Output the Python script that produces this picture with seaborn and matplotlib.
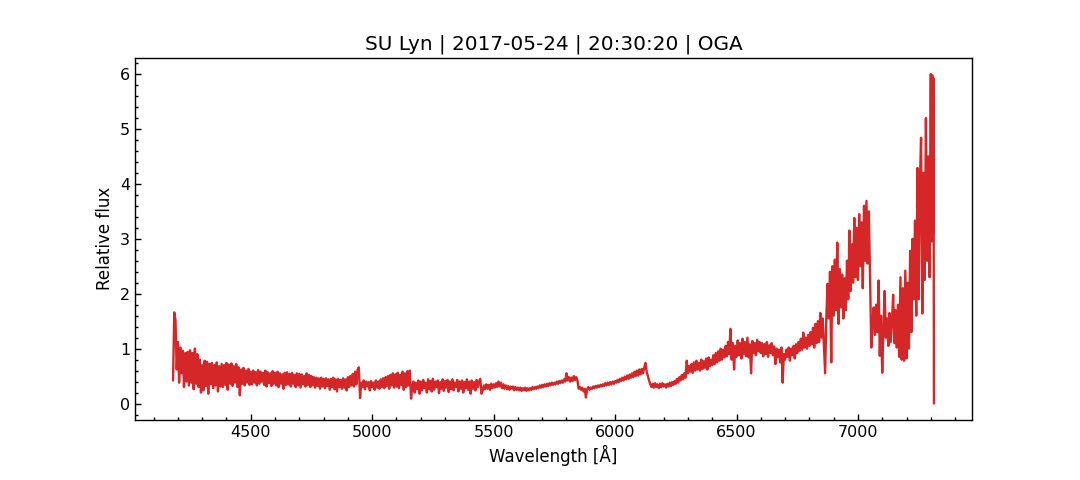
import numpy as np
import pandas as pd
import matplotlib
matplotlib.use("Agg")
import matplotlib.pyplot as plt
from matplotlib.ticker import MultipleLocator
import seaborn as sns

title = "SU Lyn | 2017-05-24 | 20:30:20 | OGA"
x_label = "Wavelength [Å]"
y_label = "Relative flux"

# --- blue end (4180-4495 Å) ---
wave_a = [
    4180, 4185, 4190, 4195, 4200, 4205, 4210, 4215, 4220, 4225,
    4230, 4235, 4240, 4245, 4250, 4255, 4260, 4265, 4270, 4275,
    4280, 4285, 4290, 4295, 4300, 4305, 4310, 4315, 4320, 4325,
    4330, 4335, 4340, 4345, 4350, 4355, 4360, 4365, 4370, 4375,
    4380, 4385, 4390, 4395, 4400, 4405, 4410, 4415, 4420, 4425,
    4430, 4435, 4440, 4445, 4450, 4455, 4460, 4465, 4470, 4475,
    4480, 4485, 4490, 4495,
]
flux_a = [
    0.42, 1.66, 1.52, 0.62, 1.12, 0.38, 1.02, 0.55, 0.96, 0.30,
    0.92, 0.40, 0.94, 0.33, 0.97, 0.38, 0.92, 0.26, 1.00, 0.36,
    0.90, 0.30, 0.80, 0.20, 0.70, 0.24, 0.78, 0.32, 0.76, 0.18,
    0.72, 0.35, 0.74, 0.28, 0.70, 0.33, 0.75, 0.22, 0.68, 0.31,
    0.72, 0.30, 0.70, 0.34, 0.74, 0.25, 0.71, 0.36, 0.73, 0.32,
    0.68, 0.38, 0.72, 0.30, 0.66, 0.15, 0.62, 0.36, 0.65, 0.33,
    0.60, 0.38, 0.63, 0.34,
]

# --- 4500-5450 Å ---
wave_b = [
    4500, 4505, 4510, 4515, 4520, 4525, 4530, 4535, 4540, 4545,
    4550, 4555, 4560, 4565, 4570, 4575, 4580, 4585, 4590, 4595,
    4600, 4605, 4610, 4615, 4620, 4625, 4630, 4635, 4640, 4645,
    4650, 4655, 4660, 4665, 4670, 4675, 4680, 4685, 4690, 4695,
    4700, 4705, 4710, 4715, 4720, 4725, 4730, 4735, 4740, 4745,
    4750, 4755, 4760, 4765, 4770, 4775, 4780, 4785, 4790, 4795,
    4800, 4805, 4810, 4815, 4820, 4825, 4830, 4835, 4840, 4845,
    4850, 4855, 4860, 4865, 4870, 4875, 4880, 4885, 4890, 4895,
    4900, 4905, 4910, 4915, 4920, 4925, 4930, 4935, 4940, 4945,
    4950, 4955, 4960, 4965, 4970, 4975, 4980, 4985, 4990, 4995,
    5000, 5005, 5010, 5015, 5020, 5025, 5030, 5035, 5040, 5045,
    5050, 5055, 5060, 5065, 5070, 5075, 5080, 5085, 5090, 5095,
    5100, 5105, 5110, 5115, 5120, 5125, 5130, 5135, 5140, 5145,
    5150, 5155, 5160, 5165, 5170, 5175, 5180, 5185, 5190, 5195,
    5200, 5205, 5210, 5215, 5220, 5225, 5230, 5235, 5240, 5245,
    5250, 5255, 5260, 5265, 5270, 5275, 5280, 5285, 5290, 5295,
    5300, 5305, 5310, 5315, 5320, 5325, 5330, 5335, 5340, 5345,
    5350, 5355, 5360, 5365, 5370, 5375, 5380, 5385, 5390, 5395,
    5400, 5405, 5410, 5415, 5420, 5425, 5430, 5435, 5440, 5445,
    5450,
]
flux_b = [
    0.58, 0.35, 0.60, 0.38, 0.57, 0.33, 0.61, 0.36, 0.58, 0.40,
    0.56, 0.34, 0.60, 0.31, 0.57, 0.37, 0.55, 0.32, 0.59, 0.36,
    0.56, 0.33, 0.58, 0.30, 0.55, 0.36, 0.53, 0.27, 0.56, 0.34,
    0.57, 0.35, 0.54, 0.31, 0.56, 0.36, 0.52, 0.30, 0.55, 0.33,
    0.54, 0.29, 0.53, 0.35, 0.50, 0.31, 0.55, 0.34, 0.52, 0.30,
    0.50, 0.33, 0.48, 0.29, 0.47, 0.32, 0.46, 0.27, 0.47, 0.31,
    0.45, 0.28, 0.46, 0.32, 0.44, 0.25, 0.45, 0.30, 0.47, 0.26,
    0.44, 0.22, 0.45, 0.30, 0.43, 0.27, 0.46, 0.29, 0.44, 0.24,
    0.48, 0.30, 0.50, 0.33, 0.54, 0.31, 0.58, 0.35, 0.62, 0.66,
    0.10, 0.38, 0.30, 0.42, 0.26, 0.40, 0.31, 0.39, 0.24, 0.41,
    0.30, 0.38, 0.25, 0.42, 0.29, 0.40, 0.27, 0.44, 0.30, 0.46,
    0.28, 0.48, 0.32, 0.50, 0.27, 0.52, 0.33, 0.55, 0.29, 0.53,
    0.31, 0.56, 0.28, 0.52, 0.34, 0.58, 0.25, 0.55, 0.30, 0.59,
    0.33, 0.60, 0.09, 0.32, 0.40, 0.20, 0.38, 0.26, 0.42, 0.18,
    0.40, 0.24, 0.43, 0.28, 0.38, 0.20, 0.44, 0.26, 0.41, 0.22,
    0.45, 0.25, 0.40, 0.30, 0.42, 0.19, 0.39, 0.27, 0.44, 0.23,
    0.41, 0.29, 0.43, 0.21, 0.40, 0.26, 0.44, 0.24, 0.38, 0.30,
    0.43, 0.22, 0.40, 0.27, 0.42, 0.20, 0.39, 0.28, 0.44, 0.25,
    0.40, 0.18, 0.42, 0.27, 0.39, 0.24, 0.43, 0.30, 0.41, 0.45,
    0.18,
]

# --- 5455-6295 Å ---
wave_c = [
    5455, 5460, 5465, 5470, 5475, 5480, 5485, 5490, 5495, 5500,
    5505, 5510, 5515, 5520, 5525, 5530, 5535, 5540, 5545, 5550,
    5555, 5560, 5565, 5570, 5575, 5580, 5585, 5590, 5595, 5600,
    5605, 5610, 5615, 5620, 5625, 5630, 5635, 5640, 5645, 5650,
    5655, 5660, 5665, 5670, 5675, 5680, 5685, 5690, 5695, 5700,
    5705, 5710, 5715, 5720, 5725, 5730, 5735, 5740, 5745, 5750,
    5755, 5760, 5765, 5770, 5775, 5780, 5785, 5790, 5795, 5800,
    5805, 5810, 5815, 5820, 5825, 5830, 5835, 5840, 5845, 5850,
    5855, 5860, 5865, 5870, 5875, 5880, 5885, 5890, 5895, 5900,
    5905, 5910, 5915, 5920, 5925, 5930, 5935, 5940, 5945, 5950,
    5955, 5960, 5965, 5970, 5975, 5980, 5985, 5990, 5995, 6000,
    6005, 6010, 6015, 6020, 6025, 6030, 6035, 6040, 6045, 6050,
    6055, 6060, 6065, 6070, 6075, 6080, 6085, 6090, 6095, 6100,
    6105, 6110, 6115, 6120, 6125, 6130, 6135, 6140, 6145, 6150,
    6155, 6160, 6165, 6170, 6175, 6180, 6185, 6190, 6195, 6200,
    6205, 6210, 6215, 6220, 6225, 6230, 6235, 6240, 6245, 6250,
    6255, 6260, 6265, 6270, 6275, 6280, 6285, 6290, 6295,
]
flux_c = [
    0.24, 0.33, 0.26, 0.35, 0.27, 0.34, 0.25, 0.36, 0.28, 0.35,
    0.29, 0.37, 0.30, 0.40, 0.31, 0.38, 0.28, 0.35, 0.27, 0.33,
    0.26, 0.32, 0.25, 0.31, 0.27, 0.31, 0.24, 0.30, 0.25, 0.29,
    0.24, 0.29, 0.23, 0.28, 0.24, 0.29, 0.23, 0.28, 0.24, 0.28,
    0.25, 0.30, 0.26, 0.30, 0.27, 0.31, 0.28, 0.33, 0.29, 0.34,
    0.30, 0.35, 0.31, 0.36, 0.32, 0.37, 0.33, 0.38, 0.34, 0.38,
    0.35, 0.40, 0.36, 0.41, 0.37, 0.42, 0.38, 0.44, 0.40, 0.55,
    0.42, 0.48, 0.40, 0.47, 0.41, 0.50, 0.43, 0.48, 0.42, 0.27,
    0.30, 0.25, 0.29, 0.22, 0.27, 0.11, 0.26, 0.30, 0.25, 0.29,
    0.27, 0.31, 0.28, 0.32, 0.29, 0.33, 0.30, 0.34, 0.31, 0.35,
    0.32, 0.37, 0.33, 0.38, 0.34, 0.39, 0.35, 0.40, 0.36, 0.41,
    0.38, 0.43, 0.39, 0.45, 0.41, 0.47, 0.42, 0.49, 0.44, 0.51,
    0.45, 0.53, 0.47, 0.55, 0.48, 0.58, 0.50, 0.60, 0.51, 0.62,
    0.53, 0.63, 0.55, 0.65, 0.74, 0.58, 0.50, 0.42, 0.35, 0.30,
    0.36, 0.29, 0.37, 0.30, 0.35, 0.28, 0.36, 0.30, 0.37, 0.31,
    0.35, 0.29, 0.36, 0.31, 0.38, 0.32, 0.39, 0.34, 0.41, 0.36,
    0.45, 0.38, 0.48, 0.42, 0.52, 0.44, 0.55, 0.47, 0.78,
]

# --- red end (6300-7313 Å) ---
wave_d = [
    6300, 6305, 6310, 6315, 6320, 6325, 6330, 6335, 6340, 6345,
    6350, 6355, 6360, 6365, 6370, 6375, 6380, 6385, 6390, 6395,
    6400, 6405, 6410, 6415, 6420, 6425, 6430, 6435, 6440, 6445,
    6450, 6455, 6460, 6465, 6470, 6475, 6480, 6485, 6490, 6495,
    6500, 6505, 6510, 6515, 6520, 6525, 6530, 6535, 6540, 6545,
    6550, 6555, 6560, 6565, 6570, 6575, 6580, 6585, 6590, 6595,
    6600, 6605, 6610, 6615, 6620, 6625, 6630, 6635, 6640, 6645,
    6650, 6655, 6660, 6665, 6670, 6675, 6680, 6685, 6690, 6695,
    6700, 6705, 6710, 6715, 6720, 6725, 6730, 6735, 6740, 6745,
    6750, 6755, 6760, 6765, 6770, 6775, 6780, 6785, 6790, 6795,
    6800, 6805, 6810, 6815, 6820, 6825, 6830, 6835, 6840, 6845,
    6850, 6855, 6860, 6865, 6870, 6875, 6880, 6885, 6890, 6895,
    6900, 6905, 6910, 6915, 6920, 6925, 6930, 6935, 6940, 6945,
    6950, 6955, 6960, 6965, 6970, 6975, 6980, 6985, 6990, 6995,
    7000, 7005, 7010, 7015, 7020, 7025, 7030, 7035, 7040, 7045,
    7050, 7055, 7060, 7065, 7070, 7075, 7080, 7085, 7090, 7095,
    7100, 7105, 7110, 7115, 7120, 7125, 7130, 7135, 7140, 7145,
    7150, 7155, 7160, 7165, 7170, 7175, 7180, 7185, 7190, 7195,
    7200, 7205, 7210, 7215, 7220, 7225, 7230, 7235, 7240, 7245,
    7250, 7255, 7260, 7265, 7270, 7275, 7280, 7285, 7290, 7295,
    7300, 7303, 7306, 7309, 7311, 7313,
]
flux_d = [
    0.55, 0.68, 0.58, 0.72, 0.56, 0.75, 0.60, 0.78, 0.62, 0.74,
    0.60, 0.80, 0.63, 0.77, 0.65, 0.82, 0.62, 0.84, 0.68, 0.80,
    0.70, 0.88, 0.72, 0.92, 0.75, 0.95, 0.78, 1.00, 0.80, 0.98,
    0.84, 1.05, 0.86, 1.12, 0.90, 1.36, 0.80, 1.10, 0.62, 1.05,
    0.85, 1.15, 0.88, 1.10, 0.82, 1.18, 0.90, 1.12, 0.86, 1.20,
    0.84, 1.08, 0.55, 1.14, 0.92, 1.10, 0.88, 1.16, 0.95, 1.12,
    0.92, 1.10, 0.86, 1.08, 0.90, 1.12, 0.85, 1.06, 0.92, 1.10,
    0.88, 1.04, 0.72, 1.00, 0.84, 0.98, 0.75, 1.02, 0.38, 0.90,
    0.80, 0.98, 0.85, 1.02, 0.78, 1.00, 0.88, 1.05, 0.82, 1.08,
    0.92, 1.12, 0.96, 1.18, 0.98, 1.29, 1.02, 1.20, 1.00, 1.25,
    1.05, 1.30, 1.08, 1.38, 1.02, 1.45, 1.10, 1.50, 1.12, 1.65,
    1.20, 1.55, 1.05, 0.55, 1.60, 2.18, 1.55, 2.40, 0.75, 2.50,
    1.60, 2.62, 1.70, 2.93, 1.45, 2.45, 1.75, 2.35, 1.55, 2.28,
    1.70, 2.60, 1.90, 3.15, 2.05, 2.90, 2.20, 3.38, 2.30, 3.20,
    2.25, 3.45, 2.50, 3.30, 2.10, 3.60, 2.60, 3.69, 2.55, 3.50,
    2.24, 1.02, 1.45, 1.75, 1.25, 1.80, 1.30, 2.24, 0.87, 1.60,
    0.56, 1.35, 2.05, 1.20, 1.55, 1.05, 1.65, 1.12, 1.50, 1.98,
    1.10, 1.70, 1.02, 1.80, 0.85, 2.30, 0.80, 2.10, 0.78, 2.42,
    0.82, 2.20, 1.00, 2.78, 1.30, 3.00, 1.90, 3.33, 1.60, 4.29,
    1.90, 4.00, 4.84, 1.64, 4.20, 2.25, 5.20, 2.60, 4.50, 2.30,
    6.00, 2.95, 5.98, 3.10, 5.92, 0.00,
]

wavelength = wave_a + wave_b + wave_c + wave_d
flux = flux_a + flux_b + flux_c + flux_d
assert len(wavelength) == len(flux), (len(wave_a), len(flux_a), len(wave_b), len(flux_b),
                                      len(wave_c), len(flux_c), len(wave_d), len(flux_d))

df = pd.DataFrame({"wavelength": wavelength, "flux": flux})

sns.set_theme(style="ticks")
plt.rcParams.update({
    "font.family": ["DejaVu Sans"],
    "text.color": "black",
    "axes.labelcolor": "black",
    "axes.edgecolor": "black",
    "xtick.color": "black",
    "ytick.color": "black",
    "axes.linewidth": 1.0,
})

fig, ax = plt.subplots(figsize=(10.8, 4.8), dpi=100)
fig.subplots_adjust(left=0.125, right=0.9, bottom=0.125, top=0.88)

sns.lineplot(data=df, x="wavelength", y="flux", ax=ax, color="#d62728",
             linewidth=1.7, estimator=None, sort=False)

ax.set_title(title, fontsize=14.4)
ax.set_xlabel(x_label, fontsize=12)
ax.set_ylabel(y_label, fontsize=12)
ax.xaxis.set_major_locator(MultipleLocator(500))
ax.xaxis.set_minor_locator(MultipleLocator(100))
ax.yaxis.set_major_locator(MultipleLocator(1))
ax.yaxis.set_minor_locator(MultipleLocator(0.2))
ax.tick_params(which="both", direction="in", top=False, right=False,
               labelsize=11.5, width=1.0)
ax.tick_params(which="major", length=4.5)
ax.tick_params(which="minor", length=2.2)
for s in ax.spines.values():
    s.set_visible(True)
    s.set_linewidth(1.0)

fig.savefig("out.png", dpi=100)
